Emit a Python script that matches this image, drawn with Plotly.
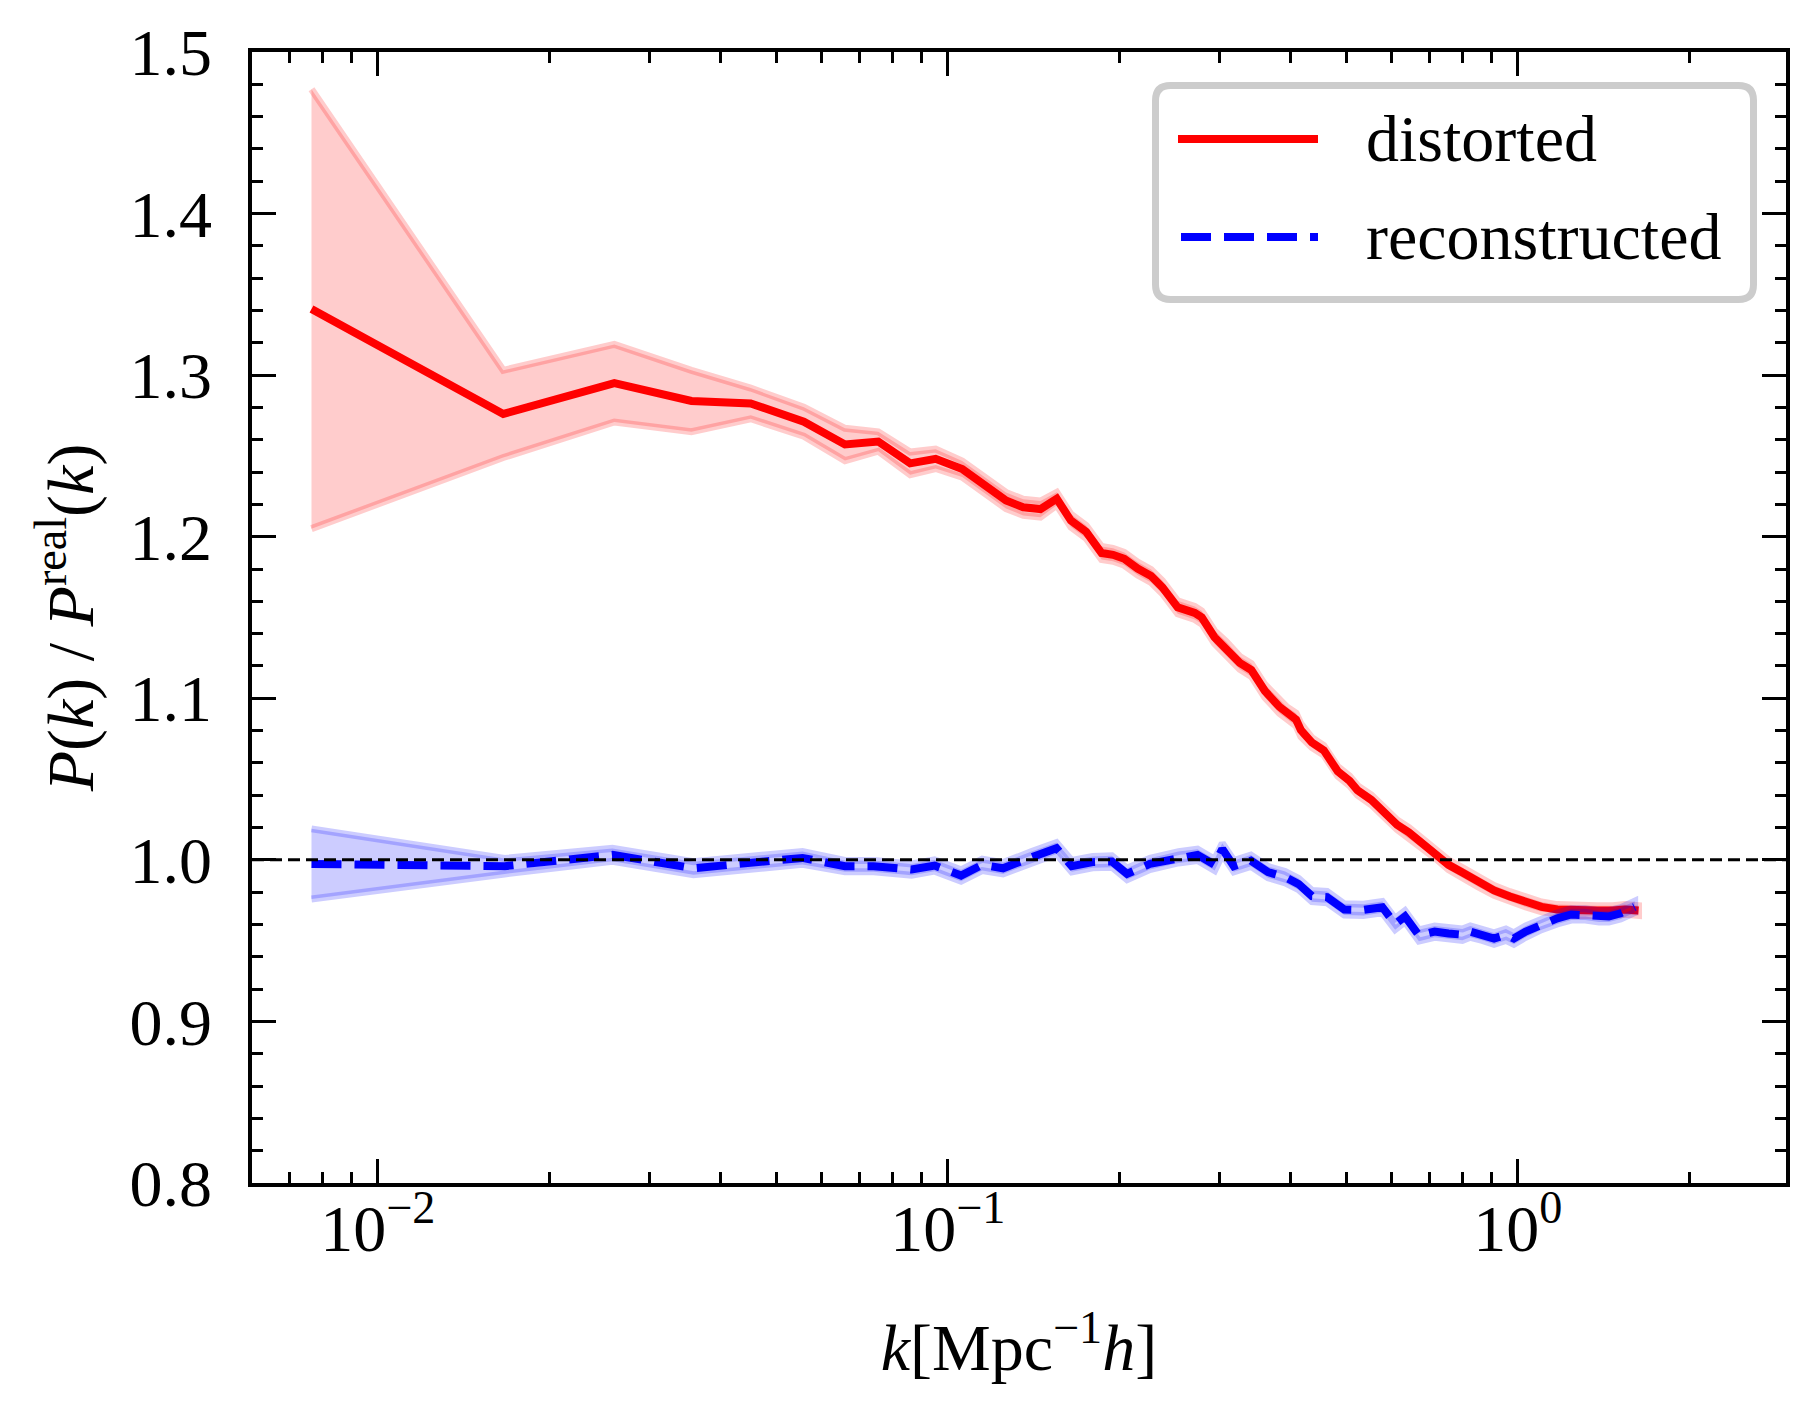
import plotly.graph_objects as go

# ---------------- data ----------------
distorted_k = [0.00765, 0.0166, 0.0260, 0.0355, 0.0451, 0.0559, 0.0660, 0.0755, 0.0859, 0.0952,
               0.1060, 0.1163, 0.1265, 0.1356, 0.1454, 0.1553, 0.1644, 0.1749, 0.1861, 0.1949,
               0.2040, 0.2153, 0.2273, 0.2380, 0.2531, 0.2712, 0.2790, 0.2937, 0.3078, 0.3252,
               0.3408, 0.3600, 0.3819, 0.3926, 0.4083, 0.4163, 0.4353, 0.4567, 0.4831, 0.5069,
               0.5233, 0.5534, 0.5807, 0.6142, 0.6442, 0.6813, 0.7206, 0.7558, 0.7995, 0.8522,
               0.9085, 0.9685, 1.0325, 1.1009, 1.1732, 1.2713, 1.3769, 1.4678, 1.5399, 1.6285]
distorted_ratio = [1.341, 1.276, 1.295, 1.284, 1.2825, 1.2712, 1.2571, 1.2589, 1.2454, 1.2482,
                   1.2419, 1.2313, 1.2224, 1.2182, 1.2171, 1.2235, 1.2100, 1.2030, 1.1899, 1.1888,
                   1.1863, 1.1803, 1.1757, 1.1687, 1.1563, 1.1528, 1.1500, 1.1378, 1.1312, 1.1219,
                   1.1175, 1.1045, 1.0947, 1.0909, 1.0868, 1.0803, 1.0726, 1.0678, 1.0548, 1.0489,
                   1.0430, 1.0371, 1.0300, 1.0217, 1.0170, 1.0099, 1.0033, 0.9969, 0.9922, 0.9863,
                   0.9811, 0.9773, 0.9738, 0.9709, 0.9693, 0.9686, 0.9686, 0.9686, 0.9693, 0.9686]
distorted_err = [0.136, 0.027, 0.024, 0.019, 0.0095, 0.009, 0.010, 0.006, 0.007, 0.006,
                 0.005, 0.005, 0.005, 0.005, 0.005, 0.004, 0.004, 0.004, 0.004, 0.004,
                 0.004, 0.004, 0.004, 0.004, 0.004, 0.004, 0.004, 0.004, 0.004, 0.004,
                 0.004, 0.004, 0.004, 0.004, 0.004, 0.004, 0.003, 0.003, 0.003, 0.003,
                 0.003, 0.003, 0.003, 0.003, 0.003, 0.003, 0.003, 0.003, 0.003, 0.003,
                 0.003, 0.003, 0.003, 0.003, 0.003, 0.003, 0.003, 0.003, 0.003, 0.003]

reconstructed_k = [0.00765, 0.0167, 0.0258, 0.0358, 0.0556, 0.0660, 0.0741, 0.0864, 0.0948, 0.1055,
                   0.1149, 0.1250, 0.1403, 0.1551, 0.1650, 0.1795, 0.1940, 0.2063, 0.2262, 0.2539,
                   0.2742, 0.2939, 0.3031, 0.3175, 0.3402, 0.3646, 0.3908, 0.4125, 0.4353, 0.4628,
                   0.4961, 0.5358, 0.5787, 0.6092, 0.6340, 0.6706, 0.7147, 0.7558, 0.7995, 0.8254,
                   0.8660, 0.9085, 0.9532, 0.9842, 1.0325, 1.1009, 1.1732, 1.2412, 1.3126, 1.3882,
                   1.4446, 1.5157, 1.6032]
reconstructed_ratio = [0.9975, 0.9961, 1.0031, 0.9948, 1.0012, 0.9961, 0.9961, 0.9940, 0.9965, 0.9903,
                       0.9969, 0.9948, 1.0016, 1.0072, 0.9961, 0.9986, 0.9990, 0.9913, 0.9975, 1.0016,
                       1.0031, 0.9969, 1.0068, 0.9961, 0.9995, 0.9924, 0.9893, 0.9850, 0.9776, 0.9769,
                       0.9693, 0.9690, 0.9707, 0.9603, 0.9650, 0.9532, 0.9556, 0.9544, 0.9537, 0.9556,
                       0.9537, 0.9513, 0.9537, 0.9513, 0.9556, 0.9603, 0.9638, 0.9662, 0.9662, 0.9650,
                       0.9650, 0.9669, 0.9709]
reconstructed_err = [0.0217, 0.0048, 0.004, 0.004, 0.004, 0.0035, 0.0035, 0.0035, 0.0035, 0.0035,
                     0.0035, 0.0035, 0.0035, 0.0035, 0.0035, 0.0035, 0.0035, 0.0035, 0.0035, 0.0035,
                     0.0035, 0.0035, 0.0035, 0.0035, 0.0035, 0.0035, 0.0035, 0.0035, 0.0035, 0.0035,
                     0.0035, 0.0035, 0.0035, 0.0035, 0.0035, 0.0035, 0.0035, 0.0035, 0.0035, 0.0035,
                     0.0035, 0.0035, 0.0035, 0.0035, 0.0035, 0.0035, 0.0035, 0.0035, 0.0035, 0.0035,
                     0.0035, 0.0035, 0.0035]

series_names = ["distorted", "reconstructed"]
reference_level = 1.0
x_major_ticks = [0.01, 0.1, 1.0]
x_major_labels = ["10<sup>\u22122</sup>", "10<sup>\u22121</sup>", "10<sup>0</sup>"]
x_minor_ticks = [m * d for d in (0.001, 0.01, 0.1, 1.0) for m in range(2, 10)]
x_label = "<i>k</i>[Mpc<sup>\u22121</sup><i>h</i>]"
y_label = "<i>P</i>(<i>k</i>) / <i>P</i><sup>real</sup>(<i>k</i>)"

# ---------------- layout constants ----------------
OFF = 8                      # default body margin of the html page
W, H = 1816 - 2 * OFF, 1409 - 2 * OFF
L, R, T, B = 252 - OFF, 1786 - OFF, 52 - OFF, 1183 - OFF   # plot area in figure pixels
FONT = "Liberation Serif"
FS = 66
RED = "#ff0000"
BLUE = "#0000ff"


def band(k, y, e, rgb):
    up = [a + b for a, b in zip(y, e)]
    lo = [a - b for a, b in zip(y, e)]
    return go.Scatter(x=list(k) + list(k)[::-1], y=up + lo[::-1], mode="lines",
                      fill="toself", fillcolor=f"rgba({rgb},0.2)",
                      line=dict(color=f"rgba({rgb},0.2)", width=7),
                      hoverinfo="skip", showlegend=False)


fig = go.Figure()
fig.add_trace(band(distorted_k, distorted_ratio, distorted_err, "255,0,0"))
fig.add_trace(go.Scatter(x=distorted_k, y=distorted_ratio, mode="lines", name=series_names[0],
                         line=dict(color=RED, width=8), showlegend=False))
fig.add_trace(band(reconstructed_k, reconstructed_ratio, reconstructed_err, "0,0,255"))
fig.add_trace(go.Scatter(x=reconstructed_k, y=reconstructed_ratio, mode="lines", name=series_names[1],
                         line=dict(color=BLUE, width=8, dash="30px,13px"), showlegend=False))

# reference line at P/Preal = 1
fig.add_shape(type="line", xref="paper", x0=0, x1=1, yref="y", y0=reference_level, y1=reference_level,
              line=dict(color="black", width=3, dash="12px,6px"), layer="above")

# ---------------- manual legend (rounded frame) ----------------
PW, PH = R - L, B - T


def px(x):  # page pixel -> paper fraction
    return (x - OFF - L) / PW


def py(y):
    return (B - (y - OFF)) / PH


lx0, lx1, ly0, ly1, rad = 1155.5, 1753.5, 85.5, 299.5, 15
path = (f"M {px(lx0 + rad)},{py(ly0)} L {px(lx1 - rad)},{py(ly0)} "
        f"Q {px(lx1)},{py(ly0)} {px(lx1)},{py(ly0 + rad)} "
        f"L {px(lx1)},{py(ly1 - rad)} Q {px(lx1)},{py(ly1)} {px(lx1 - rad)},{py(ly1)} "
        f"L {px(lx0 + rad)},{py(ly1)} Q {px(lx0)},{py(ly1)} {px(lx0)},{py(ly1 - rad)} "
        f"L {px(lx0)},{py(ly0 + rad)} Q {px(lx0)},{py(ly0)} {px(lx0 + rad)},{py(ly0)} Z")
fig.add_shape(type="path", xref="paper", yref="paper", path=path,
              line=dict(color="#cccccc", width=7), fillcolor="rgba(255,255,255,0.85)", layer="above")
fig.add_shape(type="line", xref="paper", yref="paper", x0=px(1178), x1=px(1318), y0=py(139), y1=py(139),
              line=dict(color=RED, width=8), layer="above")
fig.add_shape(type="line", xref="paper", yref="paper", x0=px(1181), x1=px(1318), y0=py(237), y1=py(237),
              line=dict(color=BLUE, width=8, dash="30px,13px"), layer="above")
for name, yy in zip(series_names, (139, 237)):
    fig.add_annotation(xref="paper", yref="paper", x=px(1364), y=py(yy), text=name, showarrow=False,
                       xanchor="left", yanchor="middle", font=dict(family=FONT, size=FS, color="black"))

axis_common = dict(showline=True, linewidth=3.8, linecolor="black", mirror="allticks",
                   ticks="inside", ticklen=24, tickwidth=3.4, tickcolor="black",
                   showgrid=False, zeroline=False,
                   tickfont=dict(family=FONT, size=FS, color="black"))

fig.update_xaxes(type="log", range=[-2.2207, 0.4705], tickmode="array", tickvals=x_major_ticks,
                 ticktext=x_major_labels, ticklabelstandoff=-15,
                 minor=dict(ticks="inside", ticklen=11, tickwidth=3, tickcolor="black",
                            tickmode="array", tickvals=x_minor_ticks),
                 title=dict(text=x_label, font=dict(family=FONT, size=FS, color="black"), standoff=61),
                 **axis_common)
fig.update_yaxes(range=[0.8, 1.5], tick0=0.8, dtick=0.1, tickformat=".1f", ticklabelstandoff=23,
                 minor=dict(ticks="inside", ticklen=11, tickwidth=3, tickcolor="black", dtick=0.02),
                 title=dict(text=y_label, font=dict(family=FONT, size=FS, color="black"), standoff=15),
                 **axis_common)

fig.update_layout(width=W, height=H, margin=dict(l=L, r=W - R, t=T, b=H - B, autoexpand=False),
                  paper_bgcolor="white", plot_bgcolor="white", showlegend=False,
                  font=dict(family=FONT, size=FS, color="black"))

fig.write_html("out.html")
